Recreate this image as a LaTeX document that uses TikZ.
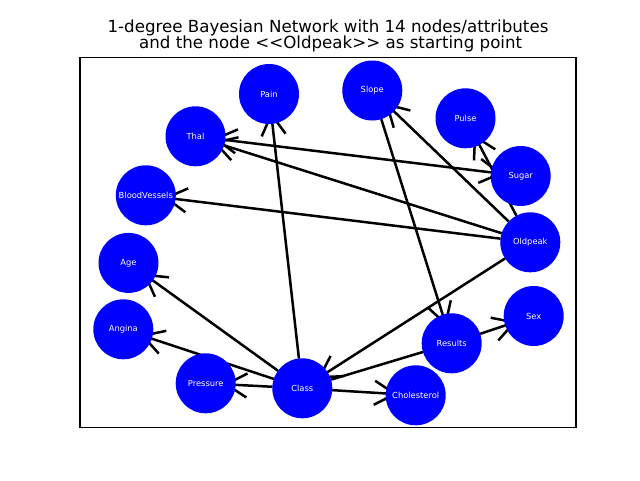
\documentclass[tikz,border=0pt]{standalone}
\usepackage{fontspec}
\newfontfamily\dvfont{DejaVu Sans}
\usetikzlibrary{arrows.meta,backgrounds}
\tikzset{
  bnode/.style={circle, fill=blue, draw=none, minimum size=60pt, inner sep=0pt, outer sep=0pt,
    text=white, font=\dvfont\fontsize{8.33}{10}\selectfont},
  barb/.tip={Straight Barb[length=20.8pt,width=24pt,sharp]},
  edge/.style={line width=2.5pt, line cap=butt, shorten >=-12pt, -barb},
  twoway/.style={line width=2.5pt, line cap=butt, shorten >=-12pt, shorten <=-12pt, barb-barb},
  plainedge/.style={line width=2.5pt},
  ttl/.style={anchor=base, inner sep=0pt, font=\dvfont\fontsize{16.67}{18}\selectfont}
}
\begin{document}
\begin{tikzpicture}[x=1pt,y=-1pt]
\useasboundingbox (0,0) rectangle (640,480);
\node[ttl] (t1) at (328,32.9) {1-degree Bayesian Network with 14 nodes/attributes};
\node[ttl] (t2) at (328,48.1) {\ and the node <{}<Oldpeak>{}> as starting point};
\draw[line width=1.1pt] (80,57.6) rectangle (576,427.2);

\node[bnode] (pain) at (269,94) {Pain};
\node[bnode] (slope) at (372.3,90.5) {Slope};
\node[bnode] (pulse) at (465.5,118.3) {Pulse};
\node[bnode] (sugar) at (520.7,176) {Sugar};
\node[bnode] (thal) at (195.5,136.3) {Thal};
\node[bnode] (bv) at (145.8,195.3) {BloodVessels};
\node[bnode] (oldpeak) at (530.3,242.3) {Oldpeak};
\node[bnode] (age) at (128.5,262.9) {Age};
\node[bnode] (sex) at (533.7,316) {Sex};
\node[bnode] (angina) at (123.3,329.3) {Angina};
\node[bnode] (results) at (451.7,343.3) {Results};
\node[bnode] (pressure) at (205.7,383.3) {Pressure};
\node[bnode] (class) at (302.3,388.3) {Class};
\node[bnode] (chol) at (415.7,395.3) {Cholesterol};

\begin{scope}[on background layer]
\draw[edge] (oldpeak) -- (thal);
\draw[twoway] (thal) -- (sugar);
\draw[edge] (oldpeak) -- (bv);
\draw[edge] (oldpeak) -- (slope);
\draw[edge] (oldpeak) -- (pulse);
\draw[edge] (oldpeak) -- (class);
\draw[edge] (slope) -- (results);
\draw[edge] (results) -- (sex);
\draw[plainedge] (results) -- (class);
\draw[edge] (class) -- (pain);
\draw[edge] (class) -- (age);
\draw[edge] (class) -- (angina);
\draw[edge] (class) -- (pressure);
\draw[edge] (class) -- (chol);
\end{scope}
\end{tikzpicture}
\end{document}
